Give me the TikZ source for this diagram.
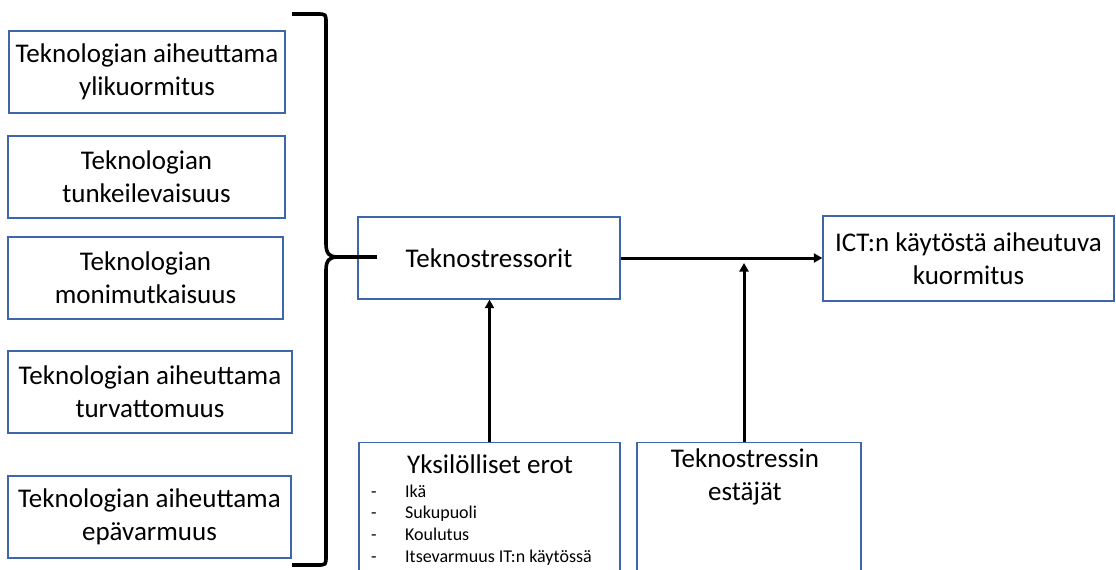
\documentclass[tikz,border=0pt]{standalone}
\usepackage{fontspec}
\setmainfont{Carlito}
\usetikzlibrary{arrows.meta}
\definecolor{boxblue}{RGB}{62,102,170}
\tikzset{
  framebox/.style={draw=boxblue, line width=1.3pt, inner sep=0pt, align=center,
    font=\fontsize{27}{33}\selectfont},
  caption/.style={inner sep=0pt, align=center, font=\fontsize{27}{33}\selectfont},
  listitem/.style={inner sep=0pt, anchor=base west, font=\fontsize{18}{21.7}\selectfont},
  link/.style={line width=3pt, -{Triangle[length=8.5pt,width=9pt]}},
  plainlink/.style={line width=3.4pt},
  bracepath/.style={line width=3.6pt, line join=round},
}
\begin{document}
\begin{tikzpicture}[x=1pt, y=-1pt]
\useasboundingbox (0,0) rectangle (1116,570);

% stressor categories on the left
\node[framebox, minimum width=276pt, minimum height=82pt] (s1) at (147,72)
  {Teknologian aiheuttama\\ylikuormitus};
\node[framebox, minimum width=277pt, minimum height=82pt] (s2) at (146.5,177)
  {Teknologian\\tunkeilevaisuus};
\node[framebox, minimum width=275pt, minimum height=82pt] (s3) at (145.5,278)
  {Teknologian\\monimutkaisuus};
\node[framebox, minimum width=284pt, minimum height=82pt] (s4) at (150,392)
  {Teknologian aiheuttama\\turvattomuus};
\node[framebox, minimum width=283pt, minimum height=82pt] (s5) at (149.5,517)
  {Teknologian aiheuttama\\epävarmuus};

% central and outcome boxes
\node[framebox, minimum width=262pt, minimum height=82pt] (tek) at (489,258)
  {Teknostressorit};
\node[framebox, minimum width=291pt, minimum height=85pt] (ict) at (968.5,258.5)
  {ICT:n käytöstä aiheutuva\\kuormitus};

% moderator boxes at the bottom (continuing past the lower edge)
\node[framebox, minimum width=261pt, minimum height=160pt, anchor=north] (yks) at (489.5,442) {};
\node[framebox, minimum width=224pt, minimum height=160pt, anchor=north] (est) at (749,442) {};

\node[caption, anchor=base] (yksTitle) at (490,473) {Yksilölliset erot};
\foreach \txt [count=\i] in {Ikä, Sukupuoli, Koulutus, Itsevarmuus IT:n käytössä} {
  \node[listitem] (dash\i) at (371,{497+21.7*(\i-1)}) {-};
  \node[listitem] (item\i) at (405,{497+21.7*(\i-1)}) {\txt};
}
% base anchor of a two-line caption sits on its last line
\node[caption, anchor=base] (estTitle) at (745,500) {Teknostressin\\estäjät};

% curly brace gathering the stressors
\coordinate (braceTip) at (337,257);
\coordinate (stubEnd) at (377,257);
\draw[bracepath] (292,14) -- (317,14) .. controls (326,14) .. (326,23)
  -- (326,244) .. controls (326,254) and (330,257) .. (braceTip)
  .. controls (330,257) and (326,260) .. (326,270)
  -- (326,556) .. controls (326,565) .. (317,565) -- (292,565);
\draw[plainlink] (braceTip) -- (stubEnd);

% connectors
\coordinate (mergePt) at (744,263);
\draw[link] (tek.east) -- (tek.east -| ict.west);
\draw[link] (yks.north) -- (yks.north |- tek.south);
\draw[link] (mergePt |- est.north) -- (mergePt);
\end{tikzpicture}
\end{document}
